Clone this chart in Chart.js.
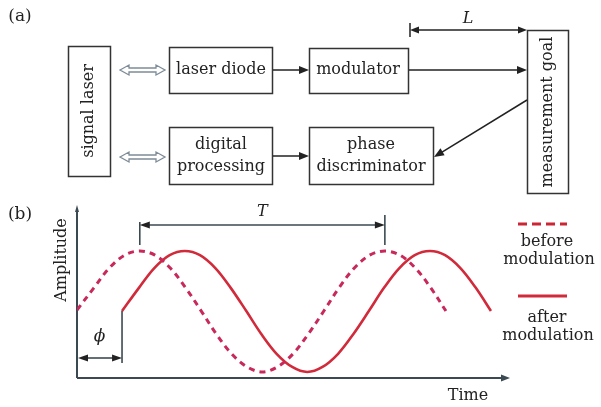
<!DOCTYPE html>
<html>
<head>
<meta charset="utf-8">
<script src="https://cdn.jsdelivr.net/npm/chart.js@4.4.1/dist/chart.umd.min.js"></script>
<style>
  html, body { margin: 0; padding: 0; background: #fff; }
  canvas { display: block; }
</style>
</head>
<body>
<canvas id="c" width="601" height="407"></canvas>
<script>
// Signal traces, time in arbitrary units (0..100), amplitude in arbitrary units (0..100)
const beforeTime = [0, 3.9, 7.4, 11.0, 14.5, 18.0, 21.6, 25.1, 28.7, 32.2, 35.7, 39.3, 42.8,
                    46.3, 49.9, 53.4, 57.0, 60.5, 64.0, 67.6, 71.1, 74.6, 78.2, 81.7, 85.2];
const beforeAmp  = [39.3, 52.1, 63.4, 71.0, 73.4, 71.0, 63.4, 52.1, 38.7, 25.3, 14.0, 6.4, 3.5,
                    6.4, 14.0, 25.3, 38.7, 52.1, 63.4, 71.0, 73.4, 71.0, 63.4, 52.1, 38.7];
const afterTime  = [10.4, 14.3, 17.8, 21.4, 24.9, 28.4, 32.0, 35.5, 39.1, 42.6, 46.1, 49.7, 53.2,
                    56.7, 60.3, 63.8, 67.4, 70.9, 74.4, 78.0, 81.5, 85.0, 88.6, 92.1, 95.6];
const afterAmp   = [38.7, 52.1, 63.4, 71.0, 73.4, 71.0, 63.4, 52.1, 38.7, 25.3, 14.0, 6.4, 3.5,
                    6.4, 14.0, 25.3, 38.7, 52.1, 63.4, 71.0, 73.4, 71.0, 63.4, 52.1, 38.7];

const seriesLabels = ['before modulation', 'after modulation'];
const periodMarks = [14.5, 71.1];   // T: from one peak of the reference wave to the next
const phaseMarks = [0, 10.4];       // phi: delay of the modulated wave

const FONT = "'DejaVu Serif', 'Liberation Serif', serif";
const INK = '#222';
const AXIS = '#3b4a52';

function head(ctx, x, y, ang, len, w, color) {
  ctx.save();
  ctx.translate(x, y);
  ctx.rotate(ang);
  ctx.fillStyle = color || INK;
  ctx.beginPath();
  ctx.moveTo(0, 0);
  ctx.lineTo(-len, -w / 2);
  ctx.lineTo(-len, w / 2);
  ctx.closePath();
  ctx.fill();
  ctx.restore();
}
function line(ctx, x1, y1, x2, y2, color, lw) {
  ctx.strokeStyle = color || INK;
  ctx.lineWidth = lw || 1.5;
  ctx.beginPath();
  ctx.moveTo(x1, y1);
  ctx.lineTo(x2, y2);
  ctx.stroke();
}
function arrow(ctx, x1, y1, x2, y2) {
  const ang = Math.atan2(y2 - y1, x2 - x1);
  line(ctx, x1, y1, x2 - 8 * Math.cos(ang), y2 - 8 * Math.sin(ang));
  head(ctx, x2, y2, ang, 10, 8);
}
function box(ctx, x, y, w, h) {
  ctx.strokeStyle = '#333';
  ctx.lineWidth = 1.5;
  ctx.strokeRect(x + 0.5, y + 0.5, w, h);
}
function text(ctx, s, x, y, size, opts) {
  opts = opts || {};
  ctx.save();
  ctx.translate(x, y);
  if (opts.rot) ctx.rotate(opts.rot);
  ctx.fillStyle = opts.color || INK;
  ctx.font = (opts.italic ? 'italic ' : '') + size + 'px ' + FONT;
  ctx.textAlign = opts.align || 'center';
  ctx.textBaseline = 'middle';
  ctx.fillText(s, 0, 0);
  ctx.restore();
}
function hollowDouble(ctx, x1, x2, y) {
  ctx.save();
  ctx.strokeStyle = '#7d8c98';
  ctx.fillStyle = '#fff';
  ctx.lineWidth = 1.3;
  const hl = 9, hw = 5, sw = 2;
  ctx.beginPath();
  ctx.moveTo(x1, y);
  ctx.lineTo(x1 + hl, y - hw);
  ctx.lineTo(x1 + hl, y - sw);
  ctx.lineTo(x2 - hl, y - sw);
  ctx.lineTo(x2 - hl, y - hw);
  ctx.lineTo(x2, y);
  ctx.lineTo(x2 - hl, y + hw);
  ctx.lineTo(x2 - hl, y + sw);
  ctx.lineTo(x1 + hl, y + sw);
  ctx.lineTo(x1 + hl, y + hw);
  ctx.closePath();
  ctx.fill();
  ctx.stroke();
  ctx.restore();
}

// Block diagram of the phase ranging setup, plus axes and annotations of the waveform panel
const overlay = {
  id: 'overlay',
  beforeDatasetsDraw(chart) {
    const ctx = chart.ctx;
    const a = chart.chartArea;
    ctx.save();
    // axes
    line(ctx, a.left, a.bottom, a.left, a.top + 4, AXIS, 2);
    head(ctx, a.left, a.top, -Math.PI / 2, 7, 4, AXIS);
    line(ctx, a.left, a.bottom, a.right - 6, a.bottom, AXIS, 2);
    head(ctx, a.right, a.bottom, 0, 9, 7, AXIS);
    ctx.restore();
  },
  afterDraw(chart) {
    const ctx = chart.ctx;
    const xs = chart.scales.x, ys = chart.scales.y;
    ctx.save();

    // ---- panel (a) ----
    text(ctx, '(a)', 20, 17, 17);
    box(ctx, 68, 46, 42, 130);
    text(ctx, 'signal laser', 89, 111, 16, { rot: -Math.PI / 2 });
    hollowDouble(ctx, 120, 165, 70);
    hollowDouble(ctx, 120, 165, 157);

    box(ctx, 169, 47, 103, 46);
    text(ctx, 'laser diode', 221, 70, 16);
    box(ctx, 169, 127, 103, 57);
    text(ctx, 'digital', 221, 145, 16);
    text(ctx, 'processing', 221, 167, 16);

    box(ctx, 309, 48, 99, 45);
    text(ctx, 'modulator', 358, 70, 16);
    box(ctx, 309, 127, 124, 57);
    text(ctx, 'phase', 371, 145, 16);
    text(ctx, 'discriminator', 371, 167, 16);

    box(ctx, 527, 30, 41, 163);
    text(ctx, 'measurement goal', 548, 112, 16, { rot: -Math.PI / 2 });

    arrow(ctx, 273, 70, 309, 70);
    arrow(ctx, 409, 70, 527, 70);
    arrow(ctx, 273, 156, 309, 156);
    arrow(ctx, 527, 100, 434, 157);

    // L dimension
    line(ctx, 410, 23, 410, 37);
    line(ctx, 418, 30, 519, 30);
    head(ctx, 410, 30, Math.PI, 9, 7);
    head(ctx, 527, 30, 0, 9, 7);
    text(ctx, 'L', 468, 19, 16, { italic: true });

    // ---- panel (b) ----
    text(ctx, '(b)', 20, 215, 17);
    text(ctx, 'Amplitude', 62, 260, 16, { rot: -Math.PI / 2 });
    text(ctx, 'Time', 468, 396, 16);

    // period T between successive peaks of the reference wave
    const t1 = xs.getPixelForValue(periodMarks[0]);
    const t2 = xs.getPixelForValue(periodMarks[1]);
    const peakY = ys.getPixelForValue(Math.max(...beforeAmp));
    line(ctx, t1, 222, t1, peakY - 6, AXIS, 1.6);
    line(ctx, t2, 215, t2, peakY - 6, AXIS, 1.6);
    line(ctx, t1 + 8, 225, t2 - 8, 225, AXIS, 1.6);
    head(ctx, t1, 225, Math.PI, 10, 7, INK);
    head(ctx, t2, 225, 0, 10, 7, INK);
    text(ctx, 'T', (t1 + t2) / 2, 212, 16, { italic: true });

    // phase shift phi
    const p1 = xs.getPixelForValue(phaseMarks[0]);
    const p2 = xs.getPixelForValue(phaseMarks[1]);
    const startY = ys.getPixelForValue(afterAmp[0]);
    line(ctx, p2, startY, p2, 363, AXIS, 1.6);
    line(ctx, p1 + 8, 358, p2 - 8, 358, AXIS, 1.6);
    head(ctx, p1 + 1, 358, Math.PI, 10, 7, INK);
    head(ctx, p2, 358, 0, 10, 7, INK);
    text(ctx, '\u03D5', (p1 + p2) / 2, 337, 17, { italic: true });

    // legend
    const ds = chart.data.datasets;
    ctx.save();
    ctx.setLineDash([9, 5]);
    line(ctx, 518, 224, 567, 224, '#cc2535', 3);
    ctx.setLineDash([]);
    line(ctx, 518, 296, 567, 296, ds[1].borderColor, 3);
    ctx.restore();
    const [b1, b2] = seriesLabels[0].split(' ');
    const [c1, c2] = seriesLabels[1].split(' ');
    text(ctx, b1, 547, 242, 16);
    text(ctx, b2, 549, 260, 16);
    text(ctx, c1, 547, 318, 16);
    text(ctx, c2, 548, 336, 16);

    ctx.restore();
  }
};

const toPoints = (xv, yv) => xv.map((x, i) => ({ x, y: yv[i] }));

new Chart(document.getElementById('c'), {
  type: 'line',
  data: {
    datasets: [
      {
        label: seriesLabels[0],
        data: toPoints(beforeTime, beforeAmp),
        borderColor: '#c8285a',
        borderWidth: 3,
        borderDash: [6, 5],
        tension: 0.35,
        pointRadius: 0,
        fill: false
      },
      {
        label: seriesLabels[1],
        data: toPoints(afterTime, afterAmp),
        borderColor: '#d12a3a',
        borderWidth: 2.6,
        tension: 0.35,
        pointRadius: 0,
        fill: false
      }
    ]
  },
  options: {
    responsive: false,
    animation: false,
    layout: { padding: { left: 77, right: 91, top: 205, bottom: 29 } },
    scales: {
      x: { type: 'linear', min: 0, max: 100, display: false },
      y: { min: 0, max: 100, display: false }
    },
    plugins: { legend: { display: false }, tooltip: { enabled: false } }
  },
  plugins: [overlay]
});
</script>
</body>
</html>
